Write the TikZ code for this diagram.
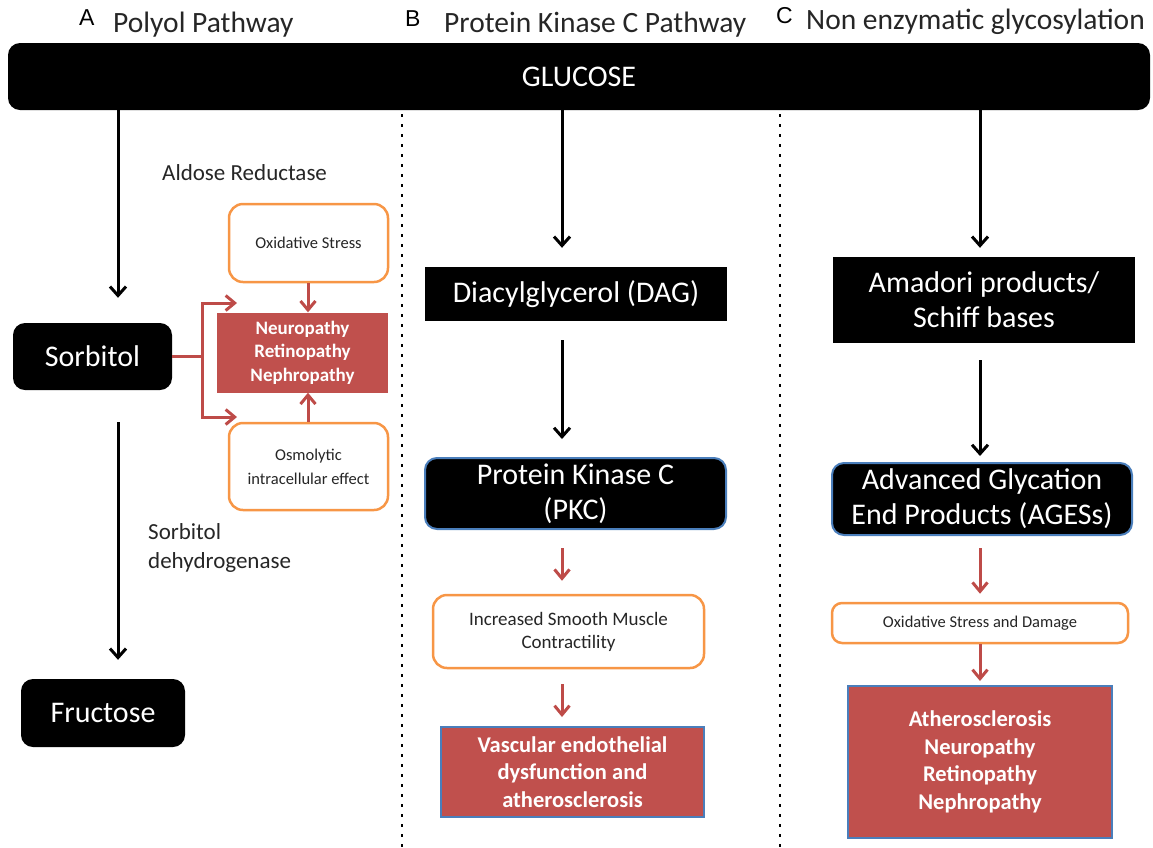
\documentclass[tikz,border=0pt]{standalone}
\usepackage{fontspec}
\setmainfont{Carlito}
\newfontfamily\arialf{Liberation Sans}
\usetikzlibrary{arrows.meta}
\definecolor{redbox}{HTML}{C0504D}
\definecolor{orng}{HTML}{F79646}
\definecolor{blueb}{HTML}{4A7EBB}
\definecolor{redarrow}{HTML}{BE4B48}
\definecolor{txtgray}{HTML}{262626}
\begin{document}
\begin{tikzpicture}[x=1pt,y=-1pt,
  blackbox/.style={fill=black, text=white, align=center, inner sep=0pt, font=\fontsize{30}{35}\selectfont},
  rnd/.style={rounded corners=12pt},
  bluedge/.style={draw=blueb, line width=2pt},
  orangebox/.style={draw=orng, line width=2.5pt, rounded corners=14pt, fill=white, align=center, inner sep=0pt, text=txtgray},
  redfill/.style={fill=redbox, text=white, align=center, inner sep=0pt},
  label/.style={text=txtgray, inner sep=0pt, font=\fontsize{23}{29}\selectfont},
  title/.style={text=txtgray, inner sep=0pt, anchor=base west, font=\fontsize{29.5}{30}\selectfont},
  letter/.style={text=black, inner sep=0pt, anchor=base west, font=\arialf\fontsize{23}{23}\selectfont},
  barr/.style={draw=black, line width=3pt, -{Straight Barb[length=9pt,width=16pt]}},
  rarr/.style={draw=redarrow, line width=3pt, -{Straight Barb[length=9pt,width=15pt]}},
  dotline/.style={draw=black, line width=2.6pt, dash pattern=on 2.6pt off 7.4pt}
]
\useasboundingbox (0,0) rectangle (1153,847);

% titles
\node[letter] (la) at (79,25) {A};
\node[title] (ta) at (113,32) {Polyol Pathway};
\node[letter] (lb) at (405,26) {B};
\node[title] (tb) at (444,32) {Protein Kinase C Pathway};
\node[letter] (lc) at (776,23) {C};
\node[title] (tc) at (806,29) {Non enzymatic glycosylation};

% glucose bar
\node[blackbox, rnd, minimum width=1142pt, minimum height=67pt] (glucose) at (579,76.5) {GLUCOSE};

% dotted separators
\draw[dotline] (402,114) -- (402,847);
\draw[dotline] (780,114) -- (780,847);

% panel A
\node[blackbox, rnd, minimum width=159pt, minimum height=67pt] (sorb) at (92.5,356.5) {Sorbitol};
\node[blackbox, rnd, minimum width=164pt, minimum height=68pt] (fruc) at (103,713) {Fructose};
\node[label, anchor=west] (ar) at (162,173) {Aldose Reductase};
\node[label, anchor=west, align=left] (sd) at (148,548) {Sorbitol\\dehydrogenase};
\node[orangebox, minimum width=159pt, minimum height=78pt, font=\fontsize{16.5}{22}\selectfont] (ox1) at (308.5,243) {Oxidative Stress};
\node[redfill, minimum width=171pt, minimum height=80pt, font=\bfseries\fontsize{19}{23.5}\selectfont] (neuro) at (302.5,352.5) {Neuropathy\\Retinopathy\\Nephropathy};
\node[orangebox, minimum width=159pt, minimum height=87pt, font=\fontsize{16.5}{24}\selectfont] (osmo) at (308.5,466.5) {Osmolytic\\intracellular effect};

% panel B
\node[blackbox, minimum width=302pt, minimum height=54pt] (dag) at (576,294) {Diacylglycerol (DAG)};
\node[blackbox, rnd, bluedge, minimum width=301pt, minimum height=71pt] (pkc) at (575.5,493.5) {Protein Kinase C\\(PKC)};
\node[orangebox, minimum width=271pt, minimum height=73pt, font=\fontsize{19}{23}\selectfont] (ism) at (568.5,631.5) {Increased Smooth Muscle\\Contractility};
\node[redfill, bluedge, minimum width=263pt, minimum height=90pt, font=\bfseries\fontsize{22.5}{27.5}\selectfont] (vasc) at (572.5,772) {Vascular endothelial\\dysfunction and\\atherosclerosis};

% panel C
\node[blackbox, minimum width=302pt, minimum height=86pt] (amad) at (984,300) {Amadori products/\\Schiff bases};
\node[blackbox, rnd, bluedge, minimum width=300pt, minimum height=72pt] (age) at (982,499) {Advanced Glycation\\End Products (AGESs)};
\node[orangebox, rounded corners=10pt, minimum width=296pt, minimum height=40pt, font=\fontsize{16.5}{20}\selectfont] (osd) at (980,623) {Oxidative Stress and Damage};
\node[redfill, bluedge, minimum width=264pt, minimum height=152pt, font=\bfseries\fontsize{22.5}{27.7}\selectfont] (red2) at (980,762) {Atherosclerosis\\Neuropathy\\Retinopathy\\Nephropathy};

% connector x positions
\coordinate (xa) at (118,0);
\coordinate (xb) at (562,0);
\coordinate (xc) at (980,0);
\coordinate (xd) at (308,0);
\coordinate (j) at (202,0);
\coordinate (up) at (237,303);
\coordinate (dn) at (237,417);

% panel A arrows
\draw[barr, shorten >=25pt] (glucose.south -| xa) -- (sorb.north -| xa);
\draw[barr, shorten <=32pt, shorten >=19pt] (sorb.south -| xa) -- (fruc.north -| xa);
\draw[rarr] (ox1.south -| xd) -- (neuro.north -| xd);
\draw[rarr] (osmo.north -| xd) -- (neuro.south -| xd);
\draw[rarr] (sorb.east) -- (sorb.east -| j) |- (up);
\draw[rarr] (sorb.east) -- (sorb.east -| j) |- (dn);

% panel B arrows
\draw[barr, shorten >=19pt] (glucose.south -| xb) -- (dag.north -| xb);
\draw[barr, shorten <=19pt, shorten >=18pt] (dag.south -| xb) -- (pkc.north -| xb);
\draw[rarr, shorten <=18pt, shorten >=13pt] (pkc.south -| xb) -- (ism.north -| xb);
\draw[rarr, shorten <=15pt, shorten >=9pt] (ism.south -| xb) -- (vasc.north -| xb);

% panel C arrows
\draw[barr, shorten >=9pt] (glucose.south -| xc) -- (amad.north -| xc);
\draw[barr, shorten <=17pt, shorten >=6pt] (amad.south -| xc) -- (age.north -| xc);
\draw[rarr, shorten <=12pt, shorten >=8pt] (age.south -| xc) -- (osd.north -| xc);
\draw[rarr, shorten >=4pt] (osd.south -| xc) -- (red2.north -| xc);
\end{tikzpicture}
\end{document}
